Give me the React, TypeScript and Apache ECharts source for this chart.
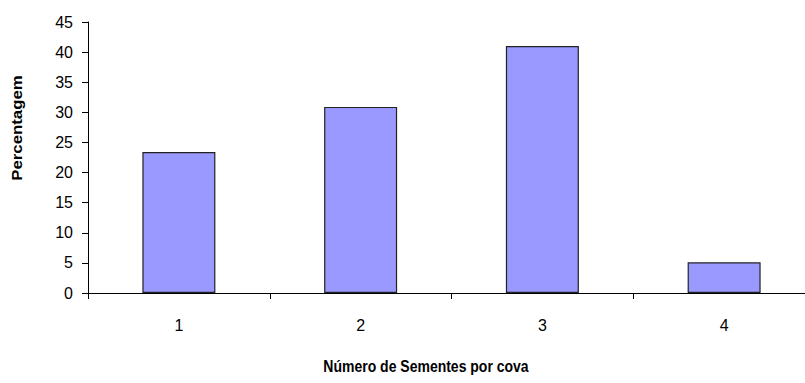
import React, { useEffect, useRef } from "react";
import * as echarts from "echarts";

const categories = ["1", "2", "3", "4"];
const percentages = [23.4, 30.9, 41.0, 5.1];
const yTitle = "Percentagem";
const xTitle = "Número de Sementes por cova";

export default function App() {
  const ref = useRef<HTMLDivElement>(null);
  useEffect(() => {
    if (!ref.current) return;
    const chart = echarts.init(ref.current, null, { renderer: "svg" });
    const font = "'Liberation Sans', Arial, sans-serif";
    chart.setOption({
      animation: false,
      backgroundColor: "#ffffff",
      grid: {
        left: 88,
        width: 727,
        top: 22,
        height: 271,
        containLabel: false,
        outerBoundsMode: "none",
      },
      xAxis: {
        type: "category",
        data: categories,
        boundaryGap: true,
        axisLine: { lineStyle: { color: "#000", width: 1 } },
        axisTick: { show: true, length: 6, alignWithLabel: false, lineStyle: { color: "#000" } },
        axisLabel: { margin: 24, fontFamily: font, fontSize: 16, color: "#000" },
        splitLine: { show: false },
      },
      yAxis: {
        type: "value",
        min: 0,
        max: 45,
        interval: 5,
        axisLine: { show: true, lineStyle: { color: "#000", width: 1 } },
        axisTick: { show: true, length: 6, inside: false, lineStyle: { color: "#000" } },
        axisLabel: { margin: 15, fontFamily: font, fontSize: 16, color: "#000" },
        splitLine: { show: false },
      },
      graphic: [
        {
          type: "text",
          x: 17,
          y: 128,
          rotation: Math.PI / 2,
          scaleX: 1.2,
          style: {
            text: yTitle,
            fontFamily: font,
            fontSize: 14,
            fontWeight: "bold",
            fill: "#000",
            align: "center",
            verticalAlign: "middle",
          },
        },
        {
          type: "text",
          x: 426,
          y: 366,
          scaleY: 1.2,
          style: {
            text: xTitle,
            fontFamily: font,
            fontSize: 14,
            fontWeight: "bold",
            fill: "#000",
            align: "center",
            verticalAlign: "middle",
          },
        },
      ],
      series: [
        {
          type: "bar",
          data: percentages,
          barWidth: 73,
          itemStyle: { color: "#9999FF", borderColor: "#222222", borderWidth: 1.2 },
        },
      ],
    });
    return () => chart.dispose();
  }, []);
  return <div ref={ref} style={{ width: 805, height: 383, position: "absolute", left: 0, top: 0 }} />;
}
